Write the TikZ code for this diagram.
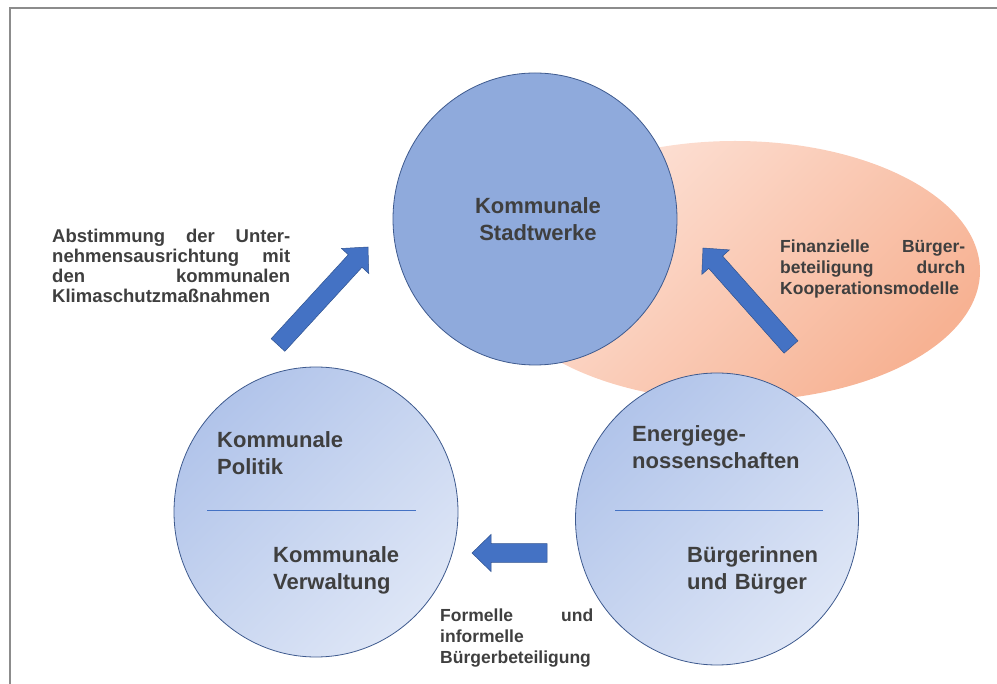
\documentclass[tikz,border=0pt]{standalone}
\usepackage{fontspec}
\setmainfont{Liberation Sans}
\usetikzlibrary{shapes.geometric,calc}
\definecolor{txt}{HTML}{3F3F3F}
\definecolor{topfill}{HTML}{8FAADC}
\definecolor{circline}{HTML}{3E5A8E}
\definecolor{lowdark}{HTML}{B1C4EA}
\definecolor{lowlight}{HTML}{DEE6F6}
\definecolor{peachlight}{HTML}{FDE4DA}
\definecolor{peachdark}{HTML}{F7B293}
\definecolor{arrfill}{HTML}{4472C4}
\definecolor{arrline}{HTML}{2F528F}
\definecolor{divcol}{HTML}{4472C4}
\definecolor{framecol}{HTML}{8C8C8C}
\tikzset{
  bigcirc/.style={ellipse, draw=circline, line width=0.8pt, inner sep=0pt},
  lowcirc/.style={bigcirc, top color=lowdark, bottom color=lowlight, shading angle=45},
  circlabel/.style={font=\bfseries\fontsize{22}{27}\selectfont, text=txt, inner sep=0pt, text width=170pt, align=left},
  sidelabel/.style={font=\bfseries\fontsize{17.5}{21}\selectfont, text=txt, inner sep=0pt, align=left},
  barrow/.style={fill=arrfill, draw=arrline, line width=0.5pt, line join=miter},
  divline/.style={draw=divcol, line width=0.7pt},
}
\newcommand\blockarrow[3]{%
  \coordinate (#3) at ($(#2)!19pt!(#1)$);
  \path[barrow] ($(#1)!9.3pt!90:(#2)$) -- ($(#3)!9.3pt!90:(#2)$) -- ($(#3)!18.5pt!90:(#2)$)
    -- (#2) -- ($(#3)!18.5pt!-90:(#2)$) -- ($(#3)!9.3pt!-90:(#2)$) -- ($(#1)!9.3pt!-90:(#2)$) -- cycle;
}
\newcommand\jline[2]{\leavevmode\hbox to #1{#2}}
\begin{document}
\begin{tikzpicture}[x=1pt,y=-1pt]
\useasboundingbox (0,0) rectangle (997,684);
% frame (partly cropped)
\draw[framecol, line width=1.6pt] (10,684) -- (10,8) -- (997,8);

% orange ellipse
\node[ellipse, minimum width=490pt, minimum height=260pt, inner sep=0pt,
      top color=peachlight, bottom color=peachdark, shading angle=45] (ell) at (735,271) {};

% circles
\node[bigcirc, fill=topfill, minimum width=284pt, minimum height=292pt] (top) at (535,219) {};
\node[lowcirc, minimum width=284pt, minimum height=290pt] (left) at (316,512) {};
\node[lowcirc, minimum width=283pt, minimum height=292pt] (right) at (717,519) {};

% dividers
\draw[divline] (207,510) -- (416,510);
\draw[divline] (615,510) -- (823,510);

% circle labels
\node[circlabel, align=center, anchor=base] (tlab) at (538,214) {Kommunale\\Stadtwerke};
\node[circlabel, anchor=base west] (l1) at (217,448) {Kommunale\\Politik};
\node[circlabel, anchor=base west] (l2) at (273,563) {Kommunale\\Verwaltung};
\node[circlabel, anchor=base west] (r1) at (632,442) {Energiege-\\nossenschaften};
\node[circlabel, anchor=base west] (r2) at (687,563) {Bürgerinnen\\und Bürger};

% block arrows
\coordinate (a1t) at (278,345); \coordinate (a1p) at (368,247);
\blockarrow{a1t}{a1p}{a1h}
\coordinate (a2t) at (791,347); \coordinate (a2p) at (703,248);
\blockarrow{a2t}{a2p}{a2h}
\coordinate (a3t) at (547,553); \coordinate (a3p) at (472,553);
\blockarrow{a3t}{a3p}{a3h}

% side labels
\node[sidelabel, font=\bfseries\fontsize{18.5}{20}\selectfont, text width=238pt, anchor=base west] (labA) at (52,243)
 {\jline{238pt}{Abstimmung\hfill der\hfill Unter-}\\
  \jline{238pt}{nehmensausrichtung\hfill mit}\\
  \jline{238pt}{den\hfill kommunalen}\\
  Klimaschutzmaßnahmen};
\node[sidelabel, text width=185pt, anchor=base west] (labB) at (780,253)
 {\jline{185pt}{Finanzielle\hfill Bürger-}\\
  \jline{185pt}{beteiligung\hfill durch}\\
  Kooperationsmodelle};
\node[sidelabel, font=\bfseries\fontsize{17.5}{21.5}\selectfont, text width=153pt, anchor=base west] (labC) at (440,621)
 {\jline{153pt}{Formelle\hfill und}\\
  informelle\\
  Bürgerbeteiligung};
\end{tikzpicture}
\end{document}
